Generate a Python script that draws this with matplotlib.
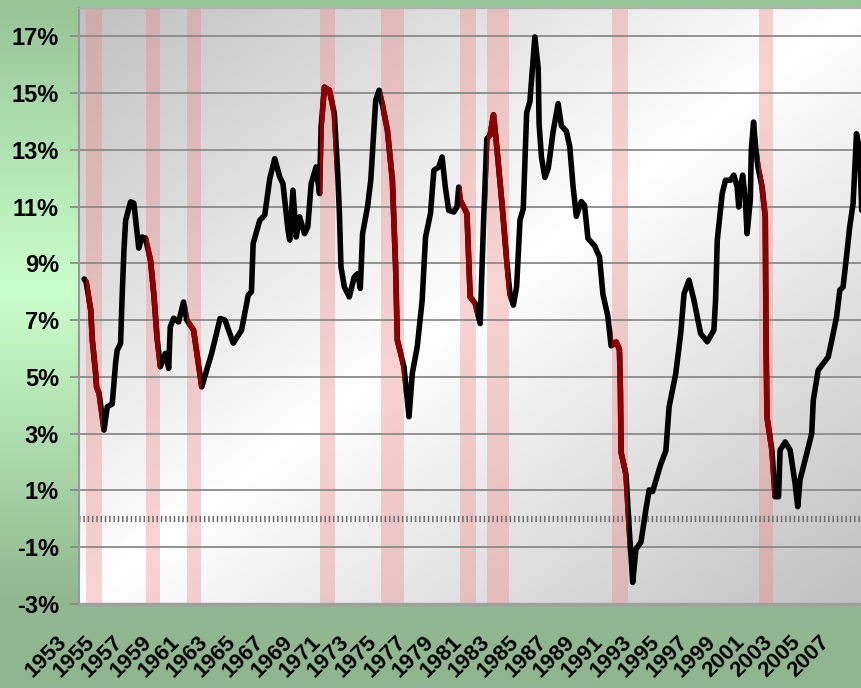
import numpy as np
import matplotlib
matplotlib.use('Agg')
import matplotlib.pyplot as plt
import matplotlib.transforms as mtransforms
from matplotlib.colors import LinearSegmentedColormap

plt.rcParams['font.family'] = ['Liberation Sans', 'DejaVu Sans']
plt.rcParams['lines.scale_dashes'] = False

# values (decimal year, percent)
years = [1953.36, 1953.50, 1953.83, 1953.94, 1954.18, 1954.24, 1954.42, 1954.77,
         1955.00, 1955.35, 1955.59, 1955.70, 1955.94, 1956.06, 1956.18, 1956.30, 1956.65, 1956.88,
         1957.11, 1957.23, 1957.46, 1957.70, 1958.06, 1958.29, 1958.52, 1958.76,
         1959.11, 1959.35, 1959.46, 1959.70, 1960.05, 1960.40, 1960.63, 1961.11, 1961.69,
         1962.39, 1962.99, 1963.34, 1963.92, 1964.51, 1964.98, 1965.21, 1965.33, 1965.80,
         1966.15, 1966.51, 1966.86, 1967.21, 1967.44, 1967.80, 1967.92, 1968.15, 1968.38,
         1968.62, 1968.97, 1969.20, 1969.44, 1969.79, 1970.03, 1970.14, 1970.38, 1970.73,
         1971.08, 1971.32, 1971.44, 1971.55, 1971.79, 1972.14, 1972.49, 1972.73, 1972.92,
         1973.08, 1973.43, 1973.66, 1974.01, 1974.25, 1974.49, 1974.84, 1975.19, 1975.31,
         1975.42, 1975.54, 1975.89, 1976.01, 1976.37, 1976.60, 1976.95, 1977.30, 1977.54,
         1977.89, 1978.13, 1978.48, 1978.71, 1978.94, 1979.18, 1979.54, 1979.77, 1979.89,
         1980.00, 1980.47, 1980.70, 1981.06, 1981.41, 1981.65, 1981.88, 1982.11, 1982.35,
         1982.58, 1982.94, 1983.29, 1983.52, 1983.76, 1983.99, 1984.23, 1984.46, 1984.70,
         1984.93, 1985.17, 1985.28, 1985.52, 1985.58, 1985.75, 1985.99, 1986.23, 1986.58,
         1986.93, 1987.16, 1987.51, 1987.75, 1987.99, 1988.22, 1988.57, 1988.80, 1989.04,
         1989.51, 1989.86, 1990.10, 1990.45, 1990.68, 1991.04, 1991.27, 1991.34, 1991.39,
         1991.74, 1991.97, 1992.21, 1992.44, 1992.80, 1993.15, 1993.38, 1993.62, 1994.20,
         1994.56, 1994.79, 1995.26, 1995.61, 1995.85, 1996.20, 1996.55, 1997.02, 1997.49,
         1997.96, 1998.08, 1998.20, 1998.55, 1998.78, 1999.13, 1999.37, 1999.61, 1999.72,
         1999.84, 2000.00, 2000.19, 2000.31, 2000.54, 2000.61, 2000.77, 2000.94, 2001.08,
         2001.37, 2001.60, 2001.65, 2001.72, 2002.07, 2002.30, 2002.54, 2002.65, 2003.01,
         2003.36, 2003.71, 2003.90, 2004.06, 2004.42, 2004.89, 2005.00, 2005.35, 2005.70,
         2006.06, 2006.41, 2006.65, 2006.88, 2007.11, 2007.35, 2007.58, 2007.82, 2008.06,
         2008.29, 2008.43]
values = [8.45, 8.35, 7.35, 6.30, 5.10, 4.65, 4.42, 3.13,
          3.95, 4.05, 5.50, 5.94, 6.18, 7.95, 9.46, 10.52, 11.17, 11.12,
          10.06, 9.54, 9.93, 9.89, 9.11, 7.95, 6.41, 5.36,
          5.83, 5.30, 6.76, 7.07, 6.94, 7.64, 7.00, 6.65, 4.65,
          5.83, 7.06, 7.00, 6.19, 6.65, 7.88, 8.00, 9.70, 10.52,
          10.70, 11.99, 12.69, 12.05, 11.81, 10.17, 9.82, 11.58, 9.93,
          10.64, 10.05, 10.29, 11.81, 12.40, 11.46, 13.81, 15.21, 15.10,
          14.28, 12.17, 10.76, 8.88, 8.17, 7.82, 8.52, 8.64, 8.12,
          10.05, 10.99, 11.93, 14.75, 15.10, 14.57, 13.69, 11.93, 10.29,
          8.88, 6.30, 5.59, 5.36, 3.60, 5.12, 6.06, 7.70, 9.93,
          10.76, 12.28, 12.40, 12.75, 11.69, 10.87, 10.81, 10.99, 11.69,
          11.23, 10.76, 7.82, 7.59, 6.88, 10.50, 13.39, 13.52, 14.24,
          13.13, 11.18, 9.09, 7.92, 7.53, 8.18, 10.53, 10.92, 14.31,
          14.70, 16.26, 16.98, 15.87, 13.92, 12.74, 12.03, 12.35, 13.66,
          14.63, 13.85, 13.66, 13.13, 11.70, 10.66, 11.18, 11.05, 9.88,
          9.62, 9.23, 7.92, 7.14, 6.10, 6.23, 5.97, 4.54, 2.33,
          1.55, -0.41, -2.24, -1.07, -0.81, 0.35, 1.02, 0.96, 1.93,
          2.40, 3.95, 5.12, 6.53, 7.94, 8.41, 7.70, 6.53, 6.24,
          6.65, 7.70, 9.82, 11.46, 11.93, 11.93, 12.11, 11.69, 10.99,
          11.69, 12.11, 11.23, 10.05, 11.23, 12.99, 13.98, 12.99, 12.40,
          11.69, 10.64, 6.53, 3.59, 2.42, 0.78, 0.78, 2.42, 2.71,
          2.42, 1.25, 0.43, 1.37, 2.07, 3.01, 4.18, 5.24, 5.47,
          5.71, 6.53, 7.12, 8.06, 8.17, 9.23, 10.29, 11.11, 13.57,
          12.99, 10.87]

rec_start = [1953.50, 1957.73, 1960.68, 1970.05, 1974.35, 1979.98, 1981.88, 1990.75, 2001.18]
rec_end = [1954.63, 1958.71, 1961.67, 1971.11, 1976.04, 1981.11, 1983.43, 1991.88, 2002.16]

tick_years = list(range(1953, 2008, 2))
y_ticks = list(range(-3, 18, 2))

fig = plt.figure(figsize=(8.62, 6.88), dpi=100)

# green backdrop behind everything
bg = fig.add_axes([0, 0, 1, 1], zorder=-10)
bg.axis('off')
green = LinearSegmentedColormap.from_list(
    'green', [(0, '#97c397'), (0.42, '#cbffcb'), (0.87, '#91b891'), (1, '#8fb68f')])
bg.imshow(np.linspace(0, 1, 400).reshape(-1, 1), cmap=green, aspect='auto',
          extent=[0, 1, 0, 1])

ax = fig.add_axes([0.0917, 0.1221, 0.9083, 0.8663])
ax.set_facecolor('none')

# diagonal grey-white-grey plot area
u, w = np.meshgrid(np.linspace(0, 1, 400), np.linspace(0, 1, 400))
grey = LinearSegmentedColormap.from_list('grey', ['#ffffff', '#c0c0c0'])
ax.imshow(np.abs(u + w - 1), cmap=grey, aspect='auto', extent=[0, 1, 0, 1],
          transform=ax.transAxes, zorder=0)

for yv in y_ticks:
    ax.axhline(yv, color='#8a8a8a', lw=1.3, zorder=1.5)
ax.axhline(0, color='#6e6e6e', lw=4.5, ls=(0, (1.1, 2.0)), zorder=2)

ax.plot(years, values, color='black', lw=4.0, zorder=3,
        solid_joinstyle='round', solid_capstyle='round')

for s, e in zip(rec_start, rec_end):
    span = ax.axvspan(s, e, color='#f08080', alpha=0.35, lw=0, zorder=1)
    red, = ax.plot(years, values, color='#8e0000', lw=4.0, zorder=4,
                   solid_joinstyle='round')
    red.set_clip_path(span)

ax.set_xlim(1953.29, 2008.45)
ax.set_ylim(-3, 18)

ax.set_yticks(y_ticks)
ax.set_yticklabels([f'{v}%' for v in y_ticks], fontsize=17, fontweight='bold')
ax.tick_params(axis='y', length=6.5, width=1.3, color='#8a8a8a', pad=8)

ax.set_xticks(tick_years)
ax.set_xticklabels([str(y) for y in tick_years], fontsize=16, fontweight='bold',
                   rotation=45, ha='right', va='top')
ax.tick_params(axis='x', length=0, pad=20)
offset = mtransforms.ScaledTranslation(-8 / 100, 0, fig.dpi_scale_trans)
for lab in ax.get_xticklabels():
    lab.set_transform(lab.get_transform() + offset)

ax.spines['left'].set_color('#999999')
ax.spines['left'].set_linewidth(1.5)
ax.spines['bottom'].set_color('#a0a0a0')
ax.spines['bottom'].set_linewidth(2.5)
ax.spines['top'].set_color('#b0b0b0')
ax.spines['top'].set_linewidth(1)
ax.spines['right'].set_visible(False)

fig.savefig('out.png', dpi=100)
